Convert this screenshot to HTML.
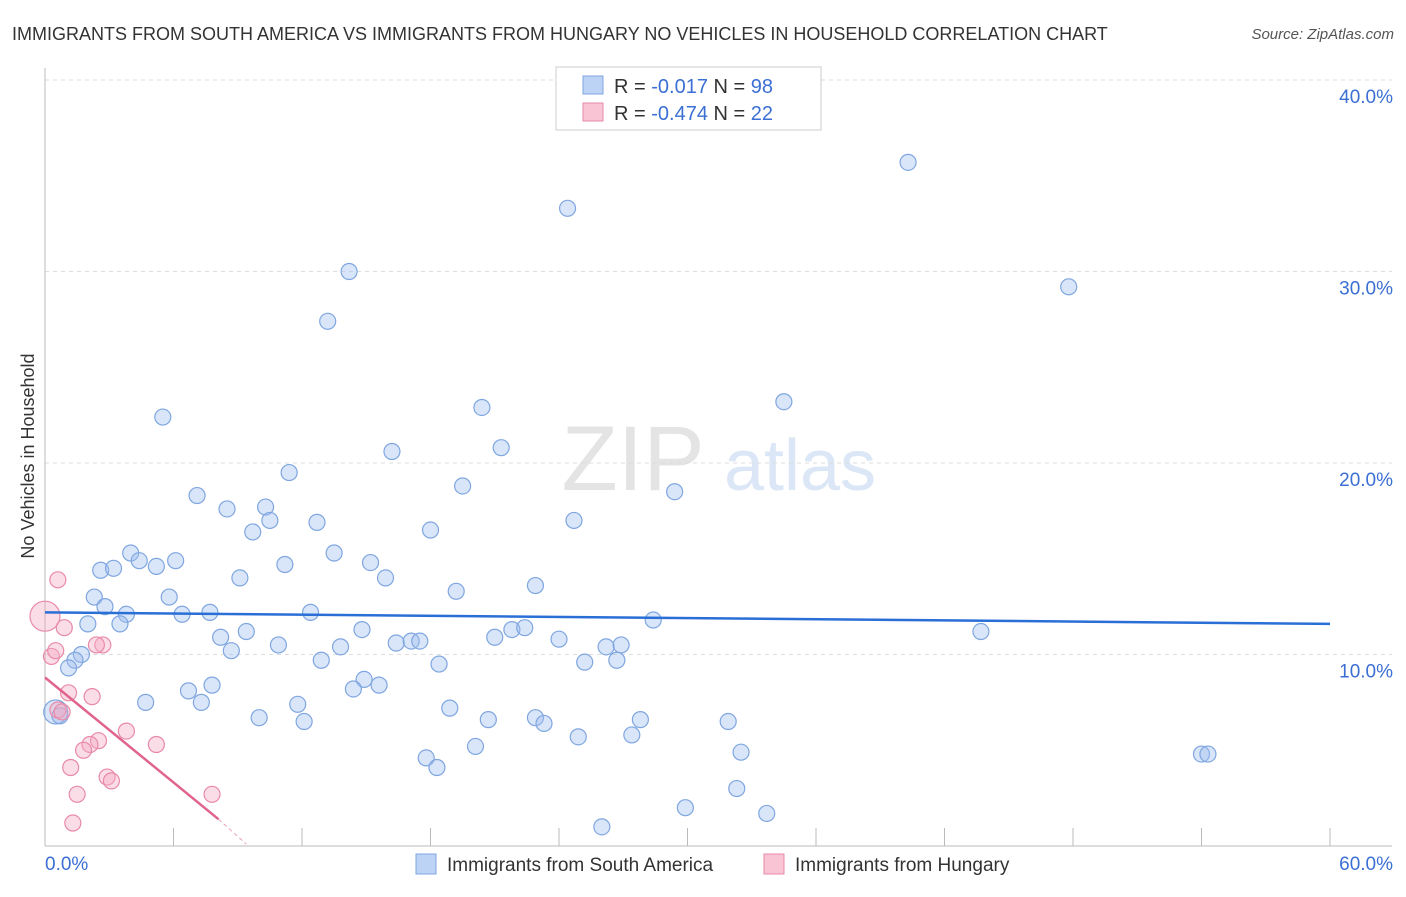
<!DOCTYPE html>
<html><head><meta charset="utf-8"><style>
body{margin:0;background:#fff;font-family:"Liberation Sans",sans-serif}
svg text{font-family:"Liberation Sans",sans-serif}
</style></head><body>
<svg id="c" width="1406" height="892">
<text x="12" y="40" font-size="18" fill="#333">IMMIGRANTS FROM SOUTH AMERICA VS IMMIGRANTS FROM HUNGARY NO VEHICLES IN HOUSEHOLD CORRELATION CHART</text>
<text x="1394" y="39" font-size="15" fill="#555" font-style="italic" text-anchor="end">Source: ZipAtlas.com</text>
<g><text x="633" y="490" font-size="92" font-family="Liberation Serif" fill="#e4e4e4" text-anchor="middle">ZIP</text><text x="800" y="490" font-size="72" fill="#dbe6f6" text-anchor="middle">atlas</text></g>
<g id="grid"></g><g id="axes"></g><g id="marks"></g>
<text transform="translate(34,456) rotate(-90)" font-size="18" fill="#333" text-anchor="middle">No Vehicles in Household</text>
<g>
<rect x="556" y="67" width="265" height="63" fill="#fff" stroke="#ccc"/>
<rect x="583" y="76" width="20" height="18" fill="#bcd3f5" stroke="#7fa6e0"/>
<rect x="583" y="103" width="20" height="18" fill="#f9c4d4" stroke="#e88aa8"/>
<text x="614" y="93" font-size="20" fill="#333">R = <tspan fill="#3b6fd4">-0.017</tspan>   N = <tspan fill="#3b6fd4">98</tspan></text>
<text x="614" y="120" font-size="20" fill="#333">R = <tspan fill="#3b6fd4">-0.474</tspan>   N = <tspan fill="#3b6fd4">22</tspan></text>
</g>
<g>
<rect x="416" y="854" width="20" height="20" fill="#bcd3f5" stroke="#7fa6e0"/>
<text x="447" y="871" font-size="19" fill="#333">Immigrants from South America</text>
<rect x="764" y="854" width="20" height="20" fill="#f9c4d4" stroke="#e88aa8"/>
<text x="795" y="871" font-size="19" fill="#333">Immigrants from Hungary</text>
</g>
</svg>
<script>
const yTicks=[10,20,30,40];
const yTickLabels=["10.0%","20.0%","30.0%","40.0%"];
const xTicks=[0,6,12,18,24,30,36,42,48,54,60];
const blueX=[40.3,24.4,14.2,47.8,13.2,34.5,5.5,20.4,16.2,21.3,11.4,19.5,29.4,7.1,8.5,10.3,10.5,9.7,12.7,18.0,24.7,4.0,4.4,6.1,5.2,2.6,3.2,13.5,11.2,15.2,9.1,15.9,22.9,2.3,5.8,19.2,2.8,3.8,6.4,7.7,12.4,2.0,3.5,28.4,8.2,9.4,14.8,21.8,22.4,21.0,43.7,24.0,10.9,16.4,17.1,17.5,13.8,26.2,26.9,8.7,1.7,1.4,1.1,12.9,25.2,26.7,18.4,14.9,15.6,14.4,7.8,6.7,4.7,7.3,11.8,18.9,0.5,0.7,10.0,12.1,20.7,22.9,23.3,27.8,31.9,24.9,27.4,20.1,32.5,17.8,18.3,54.0,54.3,32.3,29.9,33.7,26.0];
const blueY=[35.7,33.3,30.0,29.2,27.4,23.2,22.4,22.9,20.6,20.8,19.5,18.8,18.5,18.3,17.6,17.7,17.0,16.4,16.9,16.5,17.0,15.3,14.9,14.9,14.6,14.4,14.5,15.3,14.7,14.8,14.0,14.0,13.6,13.0,13.0,13.3,12.5,12.1,12.1,12.2,12.2,11.6,11.6,11.8,10.9,11.2,11.3,11.3,11.4,10.9,11.2,10.8,10.5,10.6,10.7,10.7,10.4,10.4,10.5,10.2,10.0,9.7,9.3,9.7,9.6,9.7,9.5,8.7,8.4,8.2,8.4,8.1,7.5,7.5,7.4,7.2,7.0,6.8,6.7,6.5,6.6,6.7,6.4,6.6,6.5,5.7,5.8,5.2,4.9,4.6,4.1,4.8,4.8,3.0,2.0,1.7,1.0];
const pinkX=[0,0.6,0.9,0.3,0.5,1.1,2.2,2.7,2.4,0.6,0.8,3.8,2.5,2.1,1.8,5.2,1.2,2.9,3.1,1.5,7.8,1.3];
const pinkY=[12.0,13.9,11.4,9.9,10.2,8.0,7.8,10.5,10.5,7.1,7.0,6.0,5.5,5.3,5.0,5.3,4.1,3.6,3.4,2.7,2.7,1.2];
const blueTrend=[[0,12.2],[60,11.6]];
const pinkTrend=[[0,8.8],[8.1,1.4]];
const pinkTrendExt=[[8.1,1.4],[9.4,0.1]];
const X=v=>45+v*(1285/60), Y=v=>846-v*19.15;
const NS="http://www.w3.org/2000/svg";
function mk(p,t,a){const e=document.createElementNS(NS,t);for(const k in a)e.setAttribute(k,a[k]);document.getElementById(p).appendChild(e);return e;}
yTicks.forEach((t,i)=>{
 const g=mk('grid','line',{x1:45,x2:1392,y1:Y(t),y2:Y(t),stroke:'#ddd','stroke-dasharray':'4,4'});
 
 
 const l=mk('axes','text',{x:1393,y:Y(t)+23,'font-size':19,fill:'#3b6fd4','text-anchor':'end'});
 l.textContent=yTickLabels[i];
 
 
});
const tg=mk('grid','line',{x1:45,x2:1392,y1:Y(40),y2:Y(40),stroke:'#ddd','stroke-dasharray':'4,4'});
const ax=mk('axes','line',{x1:45,x2:1392,y1:846,y2:846,stroke:'#bbb'});


const ay=mk('axes','line',{x1:45,x2:45,y1:68,y2:846,stroke:'#bbb'});


xTicks.forEach(t=>{const e=mk('axes','line',{x1:X(t),x2:X(t),y1:828,y2:846,stroke:'#bbb'});
 
 });
const x0=mk('axes','text',{x:45,y:870,'font-size':19,fill:'#3b6fd4'});x0.textContent='0.0%';


const x1=mk('axes','text',{x:1393,y:870,'font-size':19,fill:'#3b6fd4','text-anchor':'end'});x1.textContent='60.0%';


blueX.forEach((v,i)=>{const c=mk('marks','circle',{cx:X(v),cy:Y(blueY[i]),r:(i==76?12:8),fill:'rgba(160,190,240,0.4)',stroke:'#7fa6e0','stroke-width':1.2});
 
 });
pinkX.forEach((v,i)=>{const c=mk('marks','circle',{cx:X(v),cy:Y(pinkY[i]),r:(i==0?15:8),fill:'rgba(245,170,195,0.4)',stroke:'#e88aa8','stroke-width':1.2});
 
 });
const bl=mk('marks','line',{x1:X(blueTrend[0][0]),y1:Y(blueTrend[0][1]),x2:X(blueTrend[1][0]),y2:Y(blueTrend[1][1]),stroke:'#2a6fd6','stroke-width':2.5});


const pl=mk('marks','line',{x1:X(pinkTrend[0][0]),y1:Y(pinkTrend[0][1]),x2:X(pinkTrend[1][0]),y2:Y(pinkTrend[1][1]),stroke:'#e0648e','stroke-width':2.5});


const pe=mk('marks','line',{x1:X(pinkTrendExt[0][0]),y1:Y(pinkTrendExt[0][1]),x2:X(pinkTrendExt[1][0]),y2:Y(pinkTrendExt[1][1]),stroke:'#e8a0b8','stroke-width':1,'stroke-dasharray':'4,3'});


</script>
</body></html>
